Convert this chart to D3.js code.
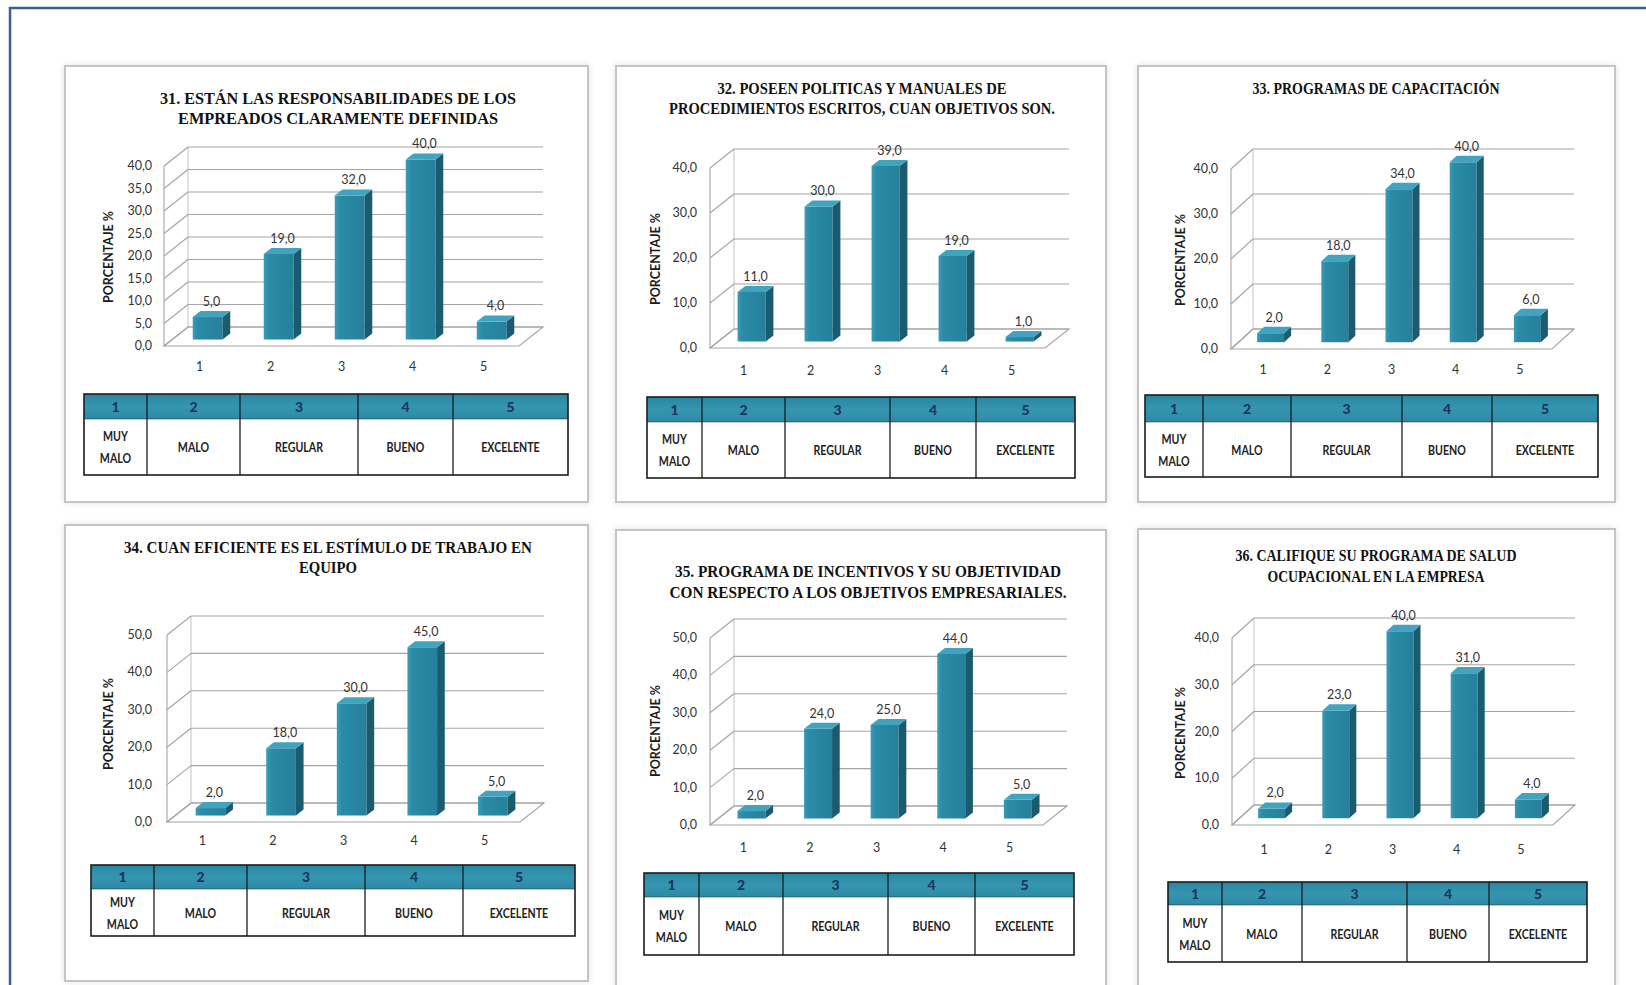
<!DOCTYPE html>
<html>
<head>
<meta charset="utf-8">
<script src="https://cdn.jsdelivr.net/npm/d3@7"></script>
<style>
  html, body { margin: 0; padding: 0; background: #ffffff; }
  svg { display: block; }
  text { font-family: Lato, "Open Sans", sans-serif; }
</style>
</head>
<body>
<svg id="chart" width="1646" height="985"></svg>
<script>
// ---- Rating scale shared by every question ----
const categories = ["1", "2", "3", "4", "5"];
const ratingNames = [["MUY", "MALO"], ["MALO"], ["REGULAR"], ["BUENO"], ["EXCELENTE"]];
const axisTitle = "PORCENTAJE %";

// ---- Question titles (one entry per printed line) ----
const title31 = ["31. ESTÁN LAS RESPONSABILIDADES DE LOS", "EMPREADOS CLARAMENTE DEFINIDAS"];
const title32 = ["32. POSEEN POLITICAS Y MANUALES DE", "PROCEDIMIENTOS ESCRITOS, CUAN OBJETIVOS SON."];
const title33 = ["33. PROGRAMAS DE CAPACITACIÓN"];
const title34 = ["34. CUAN EFICIENTE ES EL ESTÍMULO DE TRABAJO EN", "EQUIPO"];
const title35 = ["35. PROGRAMA DE INCENTIVOS Y SU OBJETIVIDAD", "CON RESPECTO A LOS OBJETIVOS EMPRESARIALES."];
const title36 = ["36. CALIFIQUE SU PROGRAMA DE SALUD", "OCUPACIONAL EN LA EMPRESA"];

// ---- Percentage of answers per rating ----
const values31 = [5, 19, 32, 40, 4];
const values32 = [11, 30, 39, 19, 1];
const values33 = [2, 18, 34, 40, 6];
const values34 = [2, 18, 30, 45, 5];
const values35 = [2, 24, 25, 44, 5];
const values36 = [2, 23, 40, 31, 4];

// ---- Value-axis ticks ----
const ticks31 = [0, 5, 10, 15, 20, 25, 30, 35, 40];
const ticks32 = [0, 10, 20, 30, 40];
const ticks33 = [0, 10, 20, 30, 40];
const ticks34 = [0, 10, 20, 30, 40, 50];
const ticks35 = [0, 10, 20, 30, 40, 50];
const ticks36 = [0, 10, 20, 30, 40];

// ---- Page layout of each card (pixels) ----
const layout = [
  { frame: [65, 66, 523, 436], titleX: 338, titleY: [104, 124], titleW: [356, 320],
    x0: 164, x1: 519, y0: 346, yTop: 166, dx: 24, dy: 19,
    yLabelX: 152, axisX: 113, axisY: 257, xLabelY: 371,
    tableX: [84, 147, 240, 358, 453, 568], tableY: [394, 419, 475] },
  { frame: [616, 66, 490, 436], titleX: 862, titleY: [94, 114], titleW: [289, 386],
    x0: 710, x1: 1045, y0: 348, yTop: 168, dx: 24, dy: 19,
    yLabelX: 697, axisX: 660, axisY: 259, xLabelY: 375,
    tableX: [647, 702, 785, 890, 976, 1075], tableY: [397, 422, 478] },
  { frame: [1138, 66, 477, 436], titleX: 1376, titleY: [94], titleW: [247],
    x0: 1231, x1: 1552, y0: 349, yTop: 169, dx: 22, dy: 20,
    yLabelX: 1218, axisX: 1185, axisY: 260, xLabelY: 374,
    tableX: [1145, 1203, 1291, 1402, 1492, 1598], tableY: [395, 422, 477] },
  { frame: [65, 525, 523, 456], titleX: 328, titleY: [553, 573], titleW: [408, 58],
    x0: 167, x1: 520, y0: 822, yTop: 635, dx: 24, dy: 19,
    yLabelX: 152, axisX: 113, axisY: 724, xLabelY: 845,
    tableX: [91, 154, 247, 365, 463, 575], tableY: [865, 889, 936] },
  { frame: [616, 530, 490, 460], titleX: 868, titleY: [577, 598], titleW: [386, 397],
    x0: 710, x1: 1043, y0: 825, yTop: 638, dx: 24, dy: 19,
    yLabelX: 697, axisX: 660, axisY: 731, xLabelY: 852,
    tableX: [644, 699, 783, 888, 975, 1074], tableY: [873, 897, 955] },
  { frame: [1138, 529, 477, 460], titleX: 1376, titleY: [561, 582], titleW: [281, 217],
    x0: 1232, x1: 1553, y0: 825, yTop: 638, dx: 22, dy: 20,
    yLabelX: 1219, axisX: 1185, axisY: 733, xLabelY: 854,
    tableX: [1168, 1222, 1302, 1407, 1489, 1587], tableY: [882, 905, 962] }
];

const questions = [
  { title: title31, values: values31, ticks: ticks31 },
  { title: title32, values: values32, ticks: ticks32 },
  { title: title33, values: values33, ticks: ticks33 },
  { title: title34, values: values34, ticks: ticks34 },
  { title: title35, values: values35, ticks: ticks35 },
  { title: title36, values: values36, ticks: ticks36 }
];

// ---- Styling ----
const colors = {
  frame: "#3a5d92",
  card: "#c4c4c4",
  grid: "#a4a4a4",
  side: "#1b5b6f",
  top: "#41a3be",
  tick: "#333333",
  headText: "#1c3563",
  bodyText: "#222222"
};

const svg = d3.select("#chart");
const fmt = d3.formatLocale({ decimal: ",", thousands: ".", grouping: [3], currency: ["", ""] }).format(".1f");

const defs = svg.append("defs");
const frontGrad = defs.append("linearGradient").attr("id", "barFront").attr("x1", 0).attr("x2", 1).attr("y1", 0).attr("y2", 0);
frontGrad.append("stop").attr("offset", "0%").attr("stop-color", "#3a9bb6");
frontGrad.append("stop").attr("offset", "18%").attr("stop-color", "#2b8ba7");
frontGrad.append("stop").attr("offset", "100%").attr("stop-color", "#25809b");
const headGrad = defs.append("linearGradient").attr("id", "headFill").attr("x1", 0).attr("x2", 0).attr("y1", 0).attr("y2", 1);
headGrad.append("stop").attr("offset", "0%").attr("stop-color", "#2a86a1");
headGrad.append("stop").attr("offset", "50%").attr("stop-color", "#3596b1");
headGrad.append("stop").attr("offset", "100%").attr("stop-color", "#2d8aa5");
const shadow = defs.append("filter").attr("id", "cardShadow").attr("x", "-5%").attr("y", "-5%").attr("width", "110%").attr("height", "110%");
shadow.append("feDropShadow").attr("dx", 0).attr("dy", 0).attr("stdDeviation", 3)
  .attr("flood-color", "#000").attr("flood-opacity", 0.12);

// outer page frame (runs off the right and bottom edges)
svg.append("path")
  .attr("d", "M1650,8 H10 V990")
  .attr("fill", "none")
  .attr("stroke", colors.frame)
  .attr("stroke-width", 2.5);

const polyLine = d3.line();

// squeeze a text element horizontally to a share of its natural width
function condense(sel, factor) {
  sel.each(function () {
    const w = this.getComputedTextLength();
    d3.select(this).attr("textLength", w * factor).attr("lengthAdjust", "spacingAndGlyphs");
  });
}

function drawCard(q, L) {
  const g = svg.append("g");

  g.append("rect")
    .attr("x", L.frame[0]).attr("y", L.frame[1])
    .attr("width", L.frame[2]).attr("height", L.frame[3])
    .attr("fill", "#fff")
    .attr("stroke", colors.card).attr("stroke-width", 2)
    .attr("filter", "url(#cardShadow)");

  // title
  g.selectAll("text.title").data(q.title).join("text")
    .attr("class", "title")
    .attr("x", L.titleX)
    .attr("y", (d, i) => L.titleY[i])
    .attr("text-anchor", "middle")
    .style("font-family", "'Liberation Serif', 'DejaVu Serif', serif")
    .attr("font-weight", "bold")
    .attr("font-size", 17.5)
    .attr("fill", "#111111")
    .attr("textLength", (d, i) => L.titleW[i])
    .attr("lengthAdjust", "spacingAndGlyphs")
    .text(d => d);

  const maxV = d3.max(q.ticks);
  const x = d3.scaleBand().domain(categories).range([L.x0, L.x1]);
  const y = d3.scaleLinear().domain([0, maxV]).range([L.y0, L.yTop]);
  // oblique projection: z runs from the front plane (0) to the back wall (1)
  const P = (px, v, z) => [px + z * L.dx, y(v) - z * L.dy];

  const walls = g.append("g").attr("stroke", colors.grid).attr("stroke-width", 1.1).attr("fill", "none");
  q.ticks.forEach(t => {
    walls.append("path").attr("d", polyLine([P(L.x0, t, 1), P(L.x1, t, 1)]));
    walls.append("path").attr("d", polyLine([P(L.x0, t, 0), P(L.x0, t, 1)]));
  });
  walls.append("path").attr("d", polyLine([P(L.x0, 0, 0), P(L.x0, maxV, 0)]));
  walls.append("path").attr("d", polyLine([P(L.x0, 0, 1), P(L.x0, maxV, 1)])).attr("stroke-opacity", 0.6);
  walls.append("path").attr("d", polyLine([P(L.x0, 0, 0), P(L.x1, 0, 0), P(L.x1, 0, 1), P(L.x0, 0, 1)]) + "Z");

  // value-axis labels on the front edge
  g.selectAll("text.ytick").data(q.ticks).join("text")
    .attr("class", "ytick")
    .attr("x", L.yLabelX)
    .attr("y", t => y(t) + 4)
    .attr("text-anchor", "end")
    .attr("font-size", 12.5)
    .attr("fill", colors.tick)
    .text(t => fmt(t));

  g.append("text")
    .attr("transform", `translate(${L.axisX},${L.axisY}) rotate(-90)`)
    .attr("text-anchor", "middle")
    .attr("font-size", 12.5)
    .attr("font-weight", "bold")
    .attr("fill", "#1a1a1a")
    .text(axisTitle);

  // category labels
  g.selectAll("text.xtick").data(categories).join("text")
    .attr("class", "xtick")
    .attr("x", c => x(c) + x.bandwidth() / 2)
    .attr("y", L.xLabelY)
    .attr("text-anchor", "middle")
    .attr("font-size", 12.5)
    .attr("fill", colors.tick)
    .text(c => c);

  // 3D columns
  const bw = x.bandwidth() * 0.42, z0 = 0.34, z1 = 0.66;
  const bars = g.selectAll("g.bar").data(q.values.map((v, i) => ({ v, c: categories[i] }))).join("g").attr("class", "bar");
  bars.each(function (d) {
    const b = d3.select(this);
    const cx = x(d.c) + x.bandwidth() / 2;
    const xl = cx - bw / 2, xr = cx + bw / 2;
    b.append("path").attr("fill", "url(#barFront)")
      .attr("d", polyLine([P(xl, 0, z0), P(xr, 0, z0), P(xr, d.v, z0), P(xl, d.v, z0)]) + "Z");
    b.append("path").attr("fill", colors.side)
      .attr("d", polyLine([P(xr, 0, z0), P(xr, 0, z1), P(xr, d.v, z1), P(xr, d.v, z0)]) + "Z");
    b.append("path").attr("fill", colors.top)
      .attr("d", polyLine([P(xl, d.v, z0), P(xr, d.v, z0), P(xr, d.v, z1), P(xl, d.v, z1)]) + "Z");
    b.append("text")
      .attr("x", P(cx, d.v, (z0 + z1) / 2)[0])
      .attr("y", P(cx, d.v, z1)[1] - 5)
      .attr("text-anchor", "middle")
      .attr("font-size", 12.5)
      .attr("fill", colors.tick)
      .text(fmt(d.v));
  });

  // legend table of the rating scale
  const tx = L.tableX, ty = L.tableY;
  const cols = d3.pairs(tx).map((p, i) => ({ a: p[0], b: p[1], c: categories[i], name: ratingNames[i] }));
  const t = g.append("g");
  t.selectAll("rect.head").data(cols).join("rect")
    .attr("class", "head")
    .attr("x", d => d.a).attr("y", ty[0])
    .attr("width", d => d.b - d.a).attr("height", ty[1] - ty[0])
    .attr("fill", "url(#headFill)");
  t.selectAll("text.head").data(cols).join("text")
    .attr("class", "head")
    .attr("x", d => (d.a + d.b) / 2)
    .attr("y", (ty[0] + ty[1]) / 2 + 5)
    .attr("text-anchor", "middle")
    .attr("font-size", 14)
    .attr("font-weight", "900")
    .attr("fill", colors.headText)
    .text(d => d.c);
  const mid = (ty[1] + ty[2]) / 2;
  cols.forEach(d => {
    const n = d.name.length;
    const txt = t.selectAll(null).data(d.name).join("text")
      .attr("x", (d.a + d.b) / 2)
      .attr("y", (s, i) => mid + 5 + (i - (n - 1) / 2) * 22)
      .attr("text-anchor", "middle")
      .attr("font-size", 14)
      .attr("font-weight", "bold")
      .attr("fill", colors.bodyText)
      .text(s => s);
    condense(txt, 0.76);
  });
  const lines = t.append("g").attr("stroke", "#1c1c1c").attr("fill", "none");
  lines.append("rect")
    .attr("x", tx[0]).attr("y", ty[0])
    .attr("width", tx[tx.length - 1] - tx[0]).attr("height", ty[2] - ty[0])
    .attr("stroke-width", 1.6);
  tx.slice(1, -1).forEach(v => {
    lines.append("line").attr("x1", v).attr("x2", v).attr("y1", ty[0]).attr("y2", ty[2]).attr("stroke-width", 1.3);
  });
  lines.append("line").attr("x1", tx[0]).attr("x2", tx[tx.length - 1]).attr("y1", ty[1]).attr("y2", ty[1])
    .attr("stroke-width", 0.8).attr("stroke-opacity", 0.6);
}

questions.forEach((q, i) => drawCard(q, layout[i]));
</script>
</body>
</html>
